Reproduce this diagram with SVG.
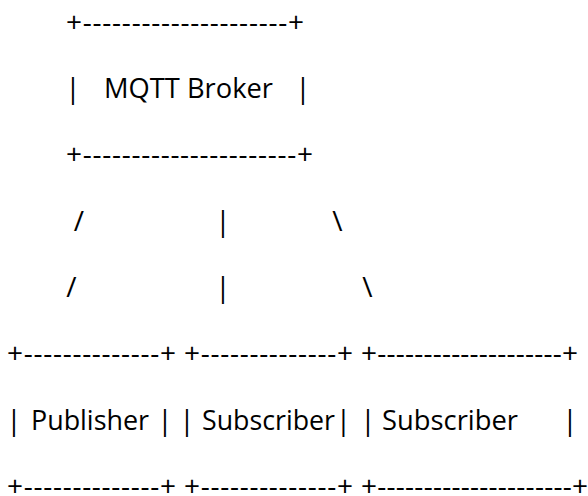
<svg xmlns="http://www.w3.org/2000/svg" width="588" height="496" viewBox="0 0 588 496">
<style>
.t{font-family:"Open Sans","Liberation Sans",sans-serif;font-size:28px;fill:#000;white-space:pre}
.c{text-anchor:middle}
</style>
<rect width="588" height="496" fill="#fff"/>
<g id="broker">
<text class="t" x="66" y="31.5" textLength="238" lengthAdjust="spacing">+---------------------+</text>
<text class="t c" x="73" y="97.5">|</text>
<text class="t" x="104" y="97.5" textLength="169" lengthAdjust="spacingAndGlyphs">MQTT Broker</text>
<text class="t c" x="303" y="97.5">|</text>
<text class="t" x="66" y="164" textLength="247" lengthAdjust="spacing">+----------------------+</text>
</g>
<g id="connectors">
<text class="t c" x="79" y="231">/</text>
<text class="t c" x="223" y="231">|</text>
<text class="t c" x="337.5" y="231">\</text>
<text class="t c" x="71.5" y="297">/</text>
<text class="t c" x="223" y="297">|</text>
<text class="t c" x="367.5" y="297">\</text>
</g>
<g id="publisher">
<text class="t" x="7" y="363" textLength="169" lengthAdjust="spacing">+--------------+</text>
<text class="t c" x="14" y="430">|</text>
<text class="t" x="31" y="430" textLength="118" lengthAdjust="spacingAndGlyphs">Publisher</text>
<text class="t c" x="165" y="430">|</text>
<text class="t" x="7" y="495.5" textLength="169" lengthAdjust="spacing">+--------------+</text>
</g>
<g id="subscriber1">
<text class="t" x="184" y="363" textLength="169" lengthAdjust="spacing">+--------------+</text>
<text class="t c" x="187" y="430">|</text>
<text class="t" x="202" y="430" textLength="133" lengthAdjust="spacingAndGlyphs">Subscriber</text>
<text class="t c" x="343.5" y="430">|</text>
<text class="t" x="184" y="495.5" textLength="169" lengthAdjust="spacing">+--------------+</text>
</g>
<g id="subscriber2">
<text class="t" x="361" y="363" textLength="217" lengthAdjust="spacing">+--------------------+</text>
<text class="t c" x="368" y="430">|</text>
<text class="t" x="382" y="430" textLength="136" lengthAdjust="spacingAndGlyphs">Subscriber</text>
<text class="t c" x="570" y="430">|</text>
<text class="t" x="361" y="495.5" textLength="227" lengthAdjust="spacing">+---------------------+</text>
</g>
</svg>
